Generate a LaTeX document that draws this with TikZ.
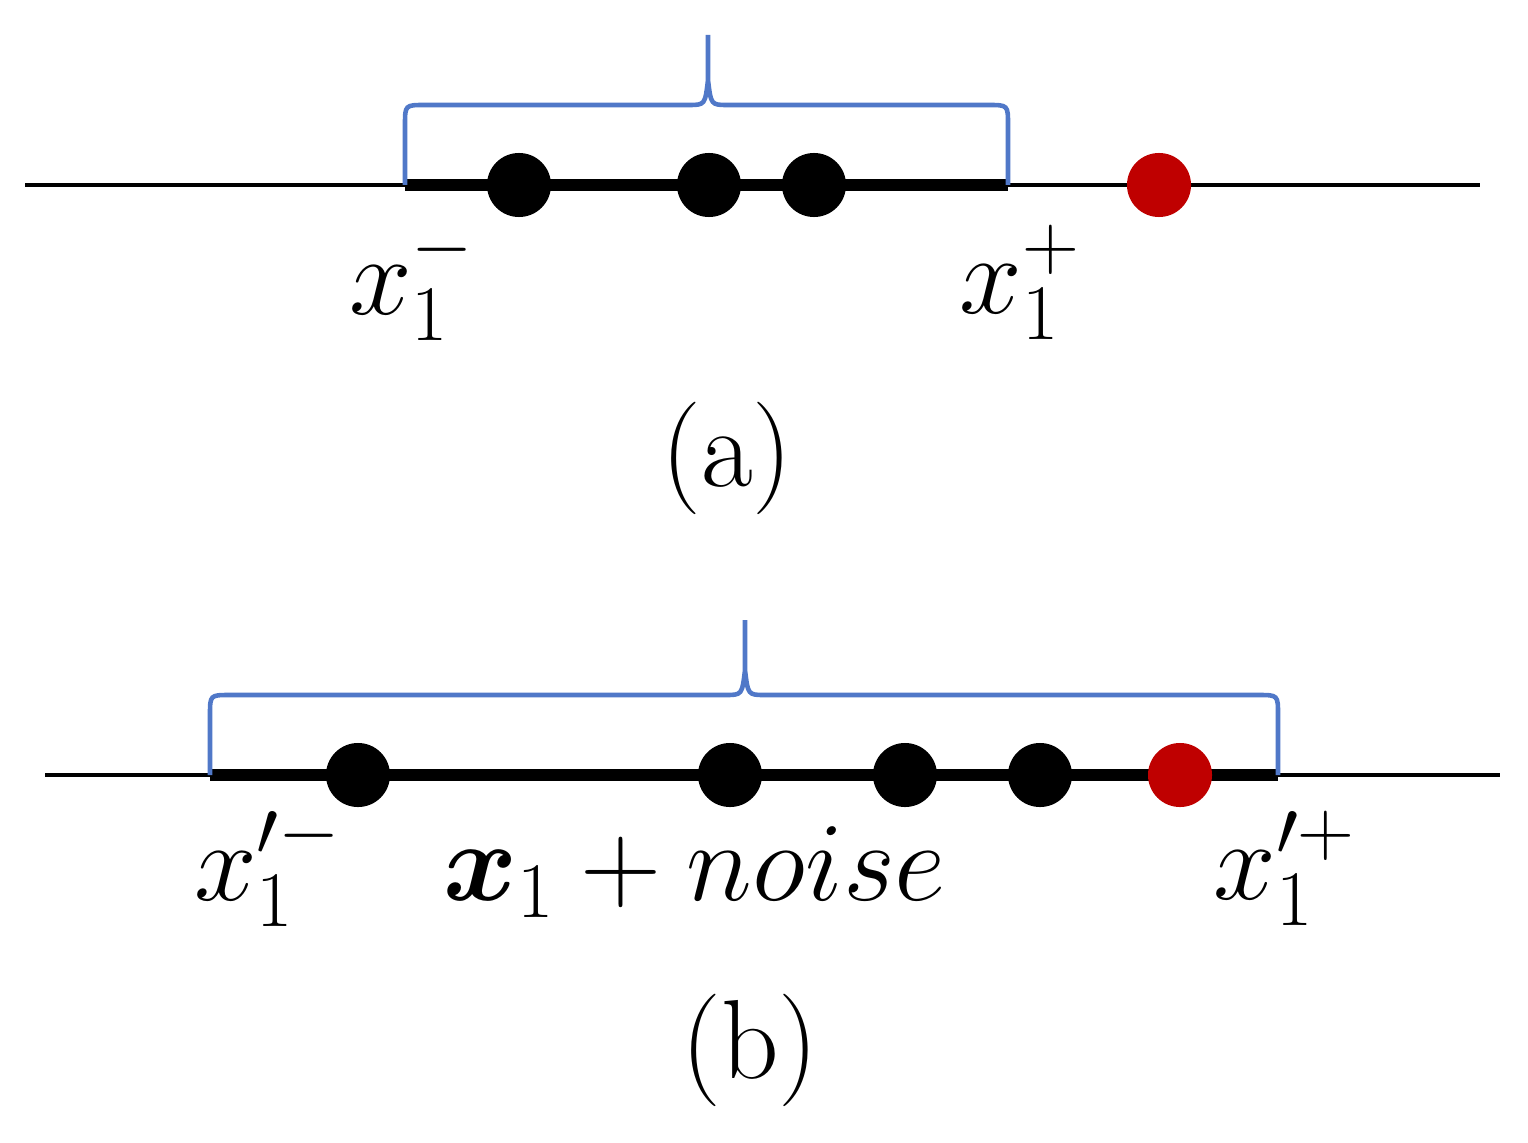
\documentclass[tikz,border=0pt]{standalone}
\usepackage{fix-cm}
\usepackage{amsmath,bm}
\begin{document}
\begin{tikzpicture}[x=0.01cm,y=-0.01cm,
  dot/.style={circle,fill=black,inner sep=0pt,minimum size=0.64cm},
  rdot/.style={circle,fill=red!75!black,inner sep=0pt,minimum size=0.64cm},
  thin/.style={line width=1.2pt},
  thick/.style={line width=3.5pt},
  br/.style={draw={rgb,255:red,80;green,120;blue,200},line width=1.3pt},
  lab/.style={font=\fontsize{32}{38}\selectfont}]
\useasboundingbox (0,0) rectangle (1528,1143);
% (a)
\coordinate (a0) at (25,185); \coordinate (a1) at (1480,185);
\coordinate (al) at (405,185); \coordinate (ar) at (1008,185);
\draw[thin] (a0) -- (a1);
\draw[thick] (al) -- (ar);
\node[dot] (d1) at (519,185) {}; \node[dot] (d2) at (709,185) {};
\node[dot] (d3) at (814,185) {}; \node[rdot] (d4) at (1159,185) {};
\draw[br] (al) -- (405,125) .. controls (405,105) .. (425,105) -- (688,105)
  .. controls (705,105) .. (708,80) -- (708,35) (708,80) .. controls (711,105) .. (728,105)
  -- (988,105) .. controls (1008,105) .. (1008,125) -- (ar);
\node[lab] (la) at (412,282) {$x_1^-$};
\node[lab] (ra) at (1020,282) {$x_1^+$};
\node[lab] (ca) at (727,458) {(a)};
% (b)
\coordinate (b0) at (45,775); \coordinate (b1) at (1500,775);
\coordinate (bl) at (210,775); \coordinate (bR) at (1278,775);
\draw[thin] (b0) -- (b1);
\draw[thick] (bl) -- (bR);
\node[dot] (e1) at (358,775) {}; \node[dot] (e2) at (730,775) {};
\node[dot] (e3) at (905,775) {}; \node[dot] (e4) at (1040,775) {};
\node[rdot] (e5) at (1180,775) {};
\draw[br] (bl) -- (210,715) .. controls (210,695) .. (230,695) -- (725,695)
  .. controls (742,695) .. (745,670) -- (745,620) (745,670) .. controls (748,695) .. (765,695)
  -- (1258,695) .. controls (1278,695) .. (1278,715) -- (bR);
\node[lab] (lb) at (268,868) {$x_1'^{-}$};
\node[lab] (nb) at (695,872) {$\bm{x}_1+noise$};
\node[lab] (rb) at (1285,868) {$x_1'^{+}$};
\node[lab] (cb) at (750,1050) {(b)};
\end{tikzpicture}
\end{document}
